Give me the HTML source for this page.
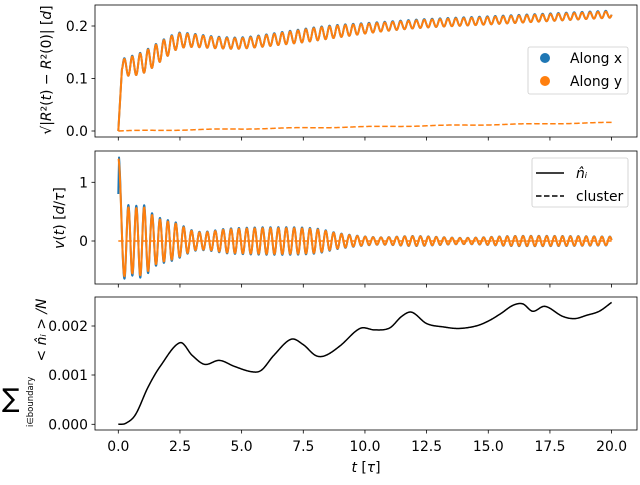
<!DOCTYPE html>
<html><head><meta charset="utf-8"><style>
body{margin:0;background:#fff}
svg{font-family:"DejaVu Sans","Liberation Sans",sans-serif}
</style></head><body>
<svg id="s" width="640" height="480" xmlns="http://www.w3.org/2000/svg">
<rect width="640" height="480" fill="#fff"/>
<g id="plots"></g>
<g fill="none" stroke="#000" stroke-width="0.8">
<rect x="95" y="5" width="542" height="132"/>
<rect x="95" y="151" width="542" height="133"/>
<rect x="95" y="297" width="542" height="133"/>
</g>
<g id="ticks" stroke="#000" stroke-width="0.8"></g>
<g font-size="13.9" fill="#000">
<text x="88" y="136" text-anchor="end">0.0</text>
<text x="88" y="83.5" text-anchor="end">0.1</text>
<text x="88" y="31" text-anchor="end">0.2</text>
<text x="88" y="187.3" text-anchor="end">1</text>
<text x="88" y="246" text-anchor="end">0</text>
<text x="88" y="331" text-anchor="end">0.002</text>
<text x="88" y="380" text-anchor="end">0.001</text>
<text x="88" y="429.3" text-anchor="end">0.000</text>
<g text-anchor="middle">
<text x="118.3" y="451">0.0</text><text x="180" y="451">2.5</text><text x="241.6" y="451">5.0</text><text x="303.3" y="451">7.5</text><text x="365" y="451">10.0</text><text x="426.6" y="451">12.5</text><text x="488.3" y="451">15.0</text><text x="550" y="451">17.5</text><text x="611.6" y="451">20.0</text>
</g>
<text x="366" y="472" text-anchor="middle"><tspan font-style="italic">t</tspan> [<tspan font-style="italic">τ</tspan>]</text>
<text transform="translate(51,70) rotate(-90)" text-anchor="middle">√|<tspan font-style="italic">R</tspan>²(<tspan font-style="italic">t</tspan>) − <tspan font-style="italic">R</tspan>²(0)| [<tspan font-style="italic">d</tspan>]</text>
<text transform="translate(64,218) rotate(-90)" text-anchor="middle"><tspan font-style="italic">v</tspan>(<tspan font-style="italic">t</tspan>) [<tspan font-style="italic">d</tspan>/<tspan font-style="italic">τ</tspan>]</text>
<text transform="translate(46,330) rotate(-90)" text-anchor="middle" font-style="italic">&lt; n̂ᵢ &gt; /N</text>
<text x="2" y="407" font-size="26">∑</text>
<text transform="translate(33,427) rotate(-90)" font-size="8.5">i∈boundary</text>
</g>
<g>
<rect x="528" y="47" width="100" height="47" rx="2" fill="#fff" fill-opacity="0.8" stroke="#ccc" stroke-width="0.8"/>
<circle cx="545" cy="58" r="5" fill="#1f77b4"/><text x="570" y="63" font-size="13.9">Along x</text>
<circle cx="545" cy="81" r="5" fill="#ff7f0e"/><text x="570" y="86" font-size="13.9">Along y</text>
<rect x="532" y="158" width="96" height="49" rx="2" fill="#fff" fill-opacity="0.8" stroke="#ccc" stroke-width="0.8"/>
<line x1="536" y1="173" x2="564" y2="173" stroke="#000" stroke-width="1.5"/><text x="576" y="178" font-size="13.9" font-style="italic">n̂ᵢ</text>
<line x1="536" y1="196" x2="564" y2="196" stroke="#000" stroke-width="1.5" stroke-dasharray="5.5,2.5"/><text x="576" y="201" font-size="13.9">cluster</text>
</g>
</svg>
<script>
var X=t=>118.3+t*24.665;
var g=document.getElementById('plots'),tk=document.getElementById('ticks');
var NS='http://www.w3.org/2000/svg';
function path(d,c,w,dash){var p=document.createElementNS(NS,'path');p.setAttribute('d',d);p.setAttribute('fill','none');p.setAttribute('stroke',c);p.setAttribute('stroke-width',w);p.setAttribute('stroke-linejoin','round');if(dash)p.setAttribute('stroke-dasharray',dash);g.appendChild(p);}
function mk(f,Y,n){var s='';for(var i=0;i<=n;i++){var t=20*i/n;s+=(i?'L':'M')+X(t).toFixed(2)+','+Y(f(t)).toFixed(2);}return s;}
for(var i=0;i<=8;i++){var x=X(i*2.5);[137,284,430].forEach(b=>{var l=document.createElementNS(NS,'line');l.setAttribute('x1',x);l.setAttribute('x2',x);l.setAttribute('y1',b);l.setAttribute('y2',b+3.5);tk.appendChild(l);});}
[131,78.5,26,182.3,241,326,375,424.3].forEach(y=>{var l=document.createElementNS(NS,'line');l.setAttribute('x1',91.5);l.setAttribute('x2',95);l.setAttribute('y1',y);l.setAttribute('y2',y);tk.appendChild(l);});
var w=2*Math.PI/0.32;
function interp(P,t){var n=P.length;if(t<=P[0][0])return P[0][1];if(t>=P[n-1][0])return P[n-1][1];
for(var i=0;i<n-1;i++){if(t<=P[i+1][0]){var p0=P[Math.max(0,i-1)],p1=P[i],p2=P[i+1],p3=P[Math.min(n-1,i+2)];
var h=p2[0]-p1[0],u=(t-p1[0])/h;
var m1=(p2[1]-p0[1])/(p2[0]-p0[0])*h,m2=(p3[1]-p1[1])/(p3[0]-p1[0])*h;
var u2=u*u,u3=u2*u;return (2*u3-3*u2+1)*p1[1]+(u3-2*u2+u)*m1+(-2*u3+3*u2)*p2[1]+(u3-u2)*m2;}}}
var mean=[[0.15,0.12],[1,0.13],[2,0.16],[2.5,0.172],[4,0.168],[5,0.167],[7,0.178],[9,0.19],[12,0.203],[15,0.21],[20,0.222]];
var amp=[[0,0.015],[1.2,0.02],[3,0.012],[5,0.01],[8,0.012],[11,0.008],[15,0.007],[20,0.006]];
var Yt=v=>131-v*525;
var fx=t=>t<0.15?t*0.8:interp(mean,t)+interp(amp,t)*Math.sin(w*(t-0.15)-0.3)*Math.min(1,(t-0.15)/0.05+0.3);
path(mk(t=>fx(t)+0.0015*Math.max(0,Math.sin(w*(t-0.15))),Yt,4000),'#1f77b4',2);
path(mk(fx,Yt,4000),'#ff7f0e',2);
path(mk(t=>0.0008*t+0.0006*Math.sin(2*t),Yt,400),'#ff7f0e',1.5,'5.5,2.5');
var Ym=v=>241-v*58.7;
var va=[[0.25,0.6],[0.6,0.55],[1,0.58],[1.5,0.4],[2.3,0.3],[3.2,0.15],[4.5,0.2],[6.5,0.22],[8,0.2],[9,0.12],[10.5,0.06],[12,0.08],[14,0.05],[16,0.08],[18,0.08],[20,0.07]];
var fv=t=>t<0.25?0.4+1.0*Math.cos(Math.PI*t/0.25):-interp(va,t)*Math.cos(w*(t-0.25));
path(mk(t=>t<0.03?0.8+t*20:fv(t)*1.07,Ym,4000),'#1f77b4',2);
path(mk(fv,Ym,4000),'#ff7f0e',2);
path(mk(t=>0,Ym,10),'#ff7f0e',1.5,'5.5,2.5');
var bp=[[0,0],[0.3,0.00002],[0.7,0.0002],[1.2,0.00075],[1.7,0.00118],[2.5,0.00166],[3,0.0014],[3.5,0.00122],[4.1,0.0013],[4.7,0.00118],[5.4,0.00107],[5.8,0.0011],[6.3,0.0014],[7,0.00173],[7.5,0.00162],[8,0.0014],[8.4,0.0014],[9,0.0016],[9.8,0.00195],[10.4,0.00192],[11,0.00196],[11.5,0.0022],[11.9,0.00228],[12.5,0.00205],[13.2,0.00198],[13.8,0.00195],[14.5,0.002],[15,0.0021],[15.5,0.00225],[16,0.00242],[16.4,0.00245],[16.8,0.0023],[17.3,0.0024],[18,0.0022],[18.5,0.00215],[19,0.00222],[19.5,0.0023],[20,0.00248]];
path(mk(t=>interp(bp,t),v=>424.3-v*49150,800),'#000',1.5);
</script>
</body></html>
